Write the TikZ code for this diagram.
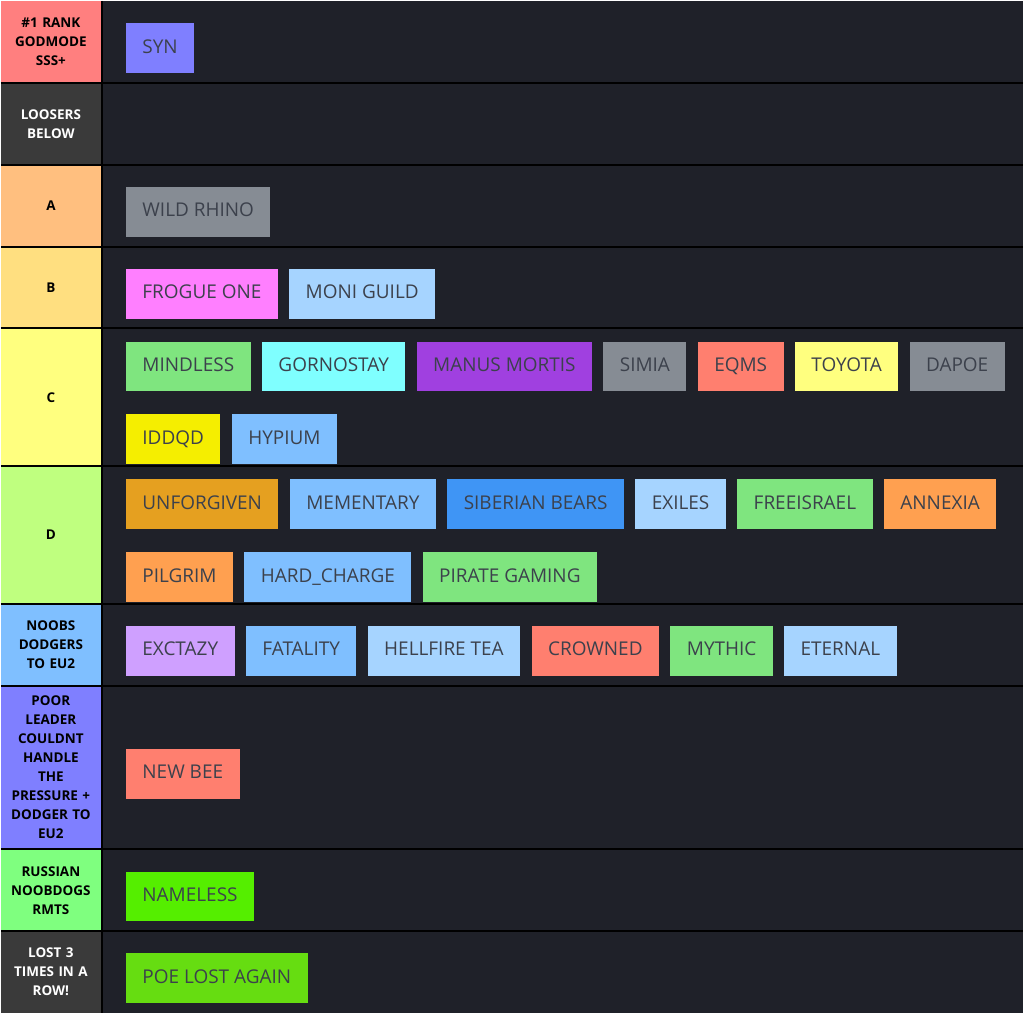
\documentclass[tikz,border=0pt]{standalone}
\usepackage{fontspec}
\setmainfont{Open Sans}
\usetikzlibrary{positioning}

\definecolor{bgdark}{HTML}{1F2129}
\definecolor{tiertext}{HTML}{3C414C}
\definecolor{cRed}{HTML}{FF7F7F}
\definecolor{cDark}{HTML}{3A3A3A}
\definecolor{cA}{HTML}{FFBF7F}
\definecolor{cB}{HTML}{FFDF80}
\definecolor{cC}{HTML}{FFFF7F}
\definecolor{cD}{HTML}{BFFF7F}
\definecolor{cNoob}{HTML}{7FBFFF}
\definecolor{cPoor}{HTML}{7F7FFF}
\definecolor{cRus}{HTML}{7FFF7F}
\definecolor{iPink}{HTML}{FF7FFF}
\definecolor{iSky}{HTML}{A6D4FF}
\definecolor{iBlue}{HTML}{7FBFFF}
\definecolor{iDeep}{HTML}{3F95F5}
\definecolor{iGreen}{HTML}{7FE57F}
\definecolor{iCyan}{HTML}{7FFFFF}
\definecolor{iPurple}{HTML}{A040E0}
\definecolor{iGray}{HTML}{868C94}
\definecolor{iSalmon}{HTML}{FF7F6F}
\definecolor{iYellow}{HTML}{FFFF7F}
\definecolor{iGold}{HTML}{F5EE00}
\definecolor{iAmber}{HTML}{E5A020}
\definecolor{iOrange}{HTML}{FFA050}
\definecolor{iLilac}{HTML}{CFA0FF}
\definecolor{iLime}{HTML}{55EE00}
\definecolor{iLime2}{HTML}{66DD11}

\begin{document}
\begin{tikzpicture}[
x=1pt, y=-1pt,
node distance=11pt,
tier/.style={minimum width=100pt, inner sep=0pt, text width=96pt, align=center,
  font=\bfseries\fontsize{13.5}{19}\selectfont, text=black},
item/.style={minimum height=50pt, inner xsep=16.5pt, inner ysep=0pt, anchor=north west,
  text height=14pt, text depth=4pt,
  font=\fontsize{19}{20}\selectfont, text=tiertext}
]

\fill[bgdark] (0,0) rectangle (1024,1014);

% tier labels
\node[tier, fill=cRed, minimum height=82pt] (t1) at (50,41) {\#1 RANK\\GODMODE\\SSS+};
\node[tier, fill=cDark, minimum height=82pt, text=white] (t2) at (50,123) {LOOSERS\\BELOW};
\node[tier, fill=cA, minimum height=82pt] (t3) at (50,205) {A};
\node[tier, fill=cB, minimum height=82pt] (t4) at (50,287) {B};
\node[tier, fill=cC, minimum height=138pt] (t5) at (50,397) {C};
\node[tier, fill=cD, minimum height=138pt] (t6) at (50,535) {D};
\node[tier, fill=cNoob, minimum height=82pt] (t7) at (50,645) {NOOBS\\DODGERS\\TO EU2};
\node[tier, fill=cPoor, minimum height=164pt] (t8) at (50,768) {POOR\\LEADER\\COULDNT\\HANDLE\\THE\\PRESSURE +\\DODGER TO\\EU2};
\node[tier, fill=cRus, minimum height=82pt] (t9) at (50,891) {RUSSIAN\\NOOBDOGS\\RMTS};
\node[tier, fill=cDark, minimum height=82pt, text=white] (t10) at (50,973) {LOST 3\\TIMES IN A\\ROW!};

% separators
\foreach \y in {82,164,246,328,466,604,686,850,932}
  \draw[black, line width=2pt] (0,\y) -- (1024,\y);
\draw[black, line width=2pt] (101,0) -- (101,1014);

% items
\node[item, fill=cPoor] (syn) at (125,22) {SYN};

\node[item, fill=iGray] (rhino) at (125,186) {WILD RHINO};

\node[item, fill=iPink] (frogue) at (125,268) {FROGUE ONE};
\node[item, fill=iSky, right=of frogue.north east, anchor=north west] (moni) {MONI GUILD};

\node[item, fill=iGreen] (mindless) at (125,341) {MINDLESS};
\node[item, fill=iCyan, right=of mindless.north east, anchor=north west] (gorno) {GORNOSTAY};
\node[item, fill=iPurple, right=of gorno.north east, anchor=north west] (manus) {MANUS MORTIS};
\node[item, fill=iGray, right=of manus.north east, anchor=north west] (simia) {SIMIA};
\node[item, fill=iSalmon, right=of simia.north east, anchor=north west] (eqms) {EQMS};
\node[item, fill=iYellow, right=of eqms.north east, anchor=north west] (toyota) {TOYOTA};
\node[item, fill=iGray, right=of toyota.north east, anchor=north west] (dapoe) {DAPOE};
\node[item, fill=iGold] (iddqd) at (125,414) {IDDQD};
\node[item, fill=iBlue, right=of iddqd.north east, anchor=north west] (hypium) {HYPIUM};

\node[item, fill=iAmber] (unforgiven) at (125,479) {UNFORGIVEN};
\node[item, fill=iBlue, right=of unforgiven.north east, anchor=north west] (mementary) {MEMENTARY};
\node[item, fill=iDeep, right=of mementary.north east, anchor=north west] (siberian) {SIBERIAN BEARS};
\node[item, fill=iSky, right=of siberian.north east, anchor=north west] (exiles) {EXILES};
\node[item, fill=iGreen, right=of exiles.north east, anchor=north west] (freeisrael) {FREEISRAEL};
\node[item, fill=iOrange, right=of freeisrael.north east, anchor=north west] (annexia) {ANNEXIA};
\node[item, fill=iOrange] (pilgrim) at (125,552) {PILGRIM};
\node[item, fill=iBlue, right=of pilgrim.north east, anchor=north west] (hardcharge) {HARD\_CHARGE};
\node[item, fill=iGreen, right=of hardcharge.north east, anchor=north west] (pirate) {PIRATE GAMING};

\node[item, fill=iLilac] (exctazy) at (125,626) {EXCTAZY};
\node[item, fill=iBlue, right=of exctazy.north east, anchor=north west] (fatality) {FATALITY};
\node[item, fill=iSky, right=of fatality.north east, anchor=north west] (hellfire) {HELLFIRE TEA};
\node[item, fill=iSalmon, right=of hellfire.north east, anchor=north west] (crowned) {CROWNED};
\node[item, fill=iGreen, right=of crowned.north east, anchor=north west] (mythic) {MYTHIC};
\node[item, fill=iSky, right=of mythic.north east, anchor=north west] (eternal) {ETERNAL};

\node[item, fill=iSalmon] (newbee) at (125,749) {NEW BEE};

\node[item, fill=iLime] (nameless) at (125,872) {NAMELESS};

\node[item, fill=iLime2] (poe) at (125,954) {POE LOST AGAIN};

\end{tikzpicture}
\end{document}
